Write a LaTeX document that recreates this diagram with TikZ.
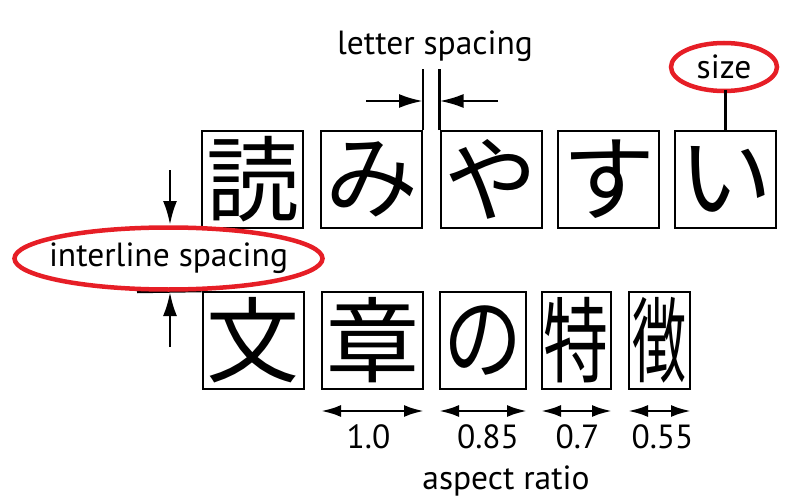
\documentclass[tikz,border=0pt]{standalone}
\usepackage{fontspec}
\usepackage{graphicx}
\setmainfont{PT Sans}
\newfontfamily\jpfont{Noto Sans CJK JP}
\usetikzlibrary{arrows.meta}

\definecolor{maru}{RGB}{230,30,38}

\tikzset{
  moji/.style={draw, line width=2pt, inner sep=0pt, minimum height=97pt,
    font=\jpfont\fontsize{93}{93}\selectfont},
  yaji/.style={line width=2.8pt, -{Latex[length=24pt,width=14pt]}},
  ryou/.style={line width=2.8pt, {Latex[length=20pt,width=12pt]}-{Latex[length=20pt,width=12pt]}},
  kakomi/.style={draw=maru, line width=4.5pt}
}

\begin{document}
\begin{tikzpicture}[x=1pt,y=-1pt]
\tikzstyle{every node}=[font=\fontsize{33.5}{33.5}\selectfont]
\useasboundingbox (0,0) rectangle (788,503);

% 上段
\node [moji, minimum width=101pt] (yo) at (252.5, 179.5) {読};
\node [moji, minimum width=101pt] (mi) at (371.5, 179.5) {み};
\node [moji, minimum width=101pt] (ya) at (491, 179.5) {や};
\node [moji, minimum width=101pt] (su) at (608.5, 179.5) {す};
\node [moji, minimum width=101pt] (i) at (725.5, 179.5) {い};

% 下段 (横幅を縮める)
\node [moji, minimum width=101pt] (bun) at (253, 340.5) {文};
\node [moji, minimum width=101pt] (sho) at (372.5, 340.5) {章};
\node [moji, minimum width=86pt] (no) at (483, 340.5) {\scalebox{0.85}[1]{の}};
\node [moji, minimum width=69pt] (toku) at (576.5, 340.5) {\scalebox{0.7}[1]{特}};
\node [moji, minimum width=61pt] (cho) at (659.5, 340.5) {\scalebox{0.58}[1]{徴}};

% 字間
\node (jikan) at (435, 46) {letter spacing};
\coordinate (ja) at (366, 101);
\coordinate (jb) at (498, 101);
\draw [line width=2.5pt] (mi.north east) -- (mi.north east |- 0, 69);
\draw [line width=2.5pt] (ya.north west) -- (ya.north west |- 0, 69);
\draw [yaji] (ja) -- (ja -| mi.north east);
\draw [yaji] (jb) -- (jb -| ya.north west);

% 大きさ
\node (size) at (724, 67) {size};
\draw [kakomi] (size) ellipse [x radius=53, y radius=24];
\draw [line width=2.5pt] (i.north) -- ++(0, -40);

% 行間
\coordinate (ga) at (170, 170);
\coordinate (gb) at (170, 347);
\coordinate (gc) at (137, 292);
\draw [line width=2.5pt] (gc) -- (bun.north west);
\draw [yaji] (ga) -- (ga |- 0, 225);
\draw [yaji] (gb) -- (gc -| gb);
\node (gyokan) at (168.5, 258.5) {interline spacing};
\draw [kakomi] (gyokan) ellipse [x radius=154, y radius=31];

% 縦横比
\foreach \n/\r/\d in {sho/1.0/-4, no/0.85/5, toku/0.7/1, cho/0.55/3}
  \draw [ryou] ([yshift=-21pt]\n.south west) -- node [below=9pt, xshift=\d pt] (hi-\n) {\r} ([yshift=-21pt]\n.south east);
\node (hiritsu) at (506, 481) {aspect ratio};

\end{tikzpicture}
\end{document}
